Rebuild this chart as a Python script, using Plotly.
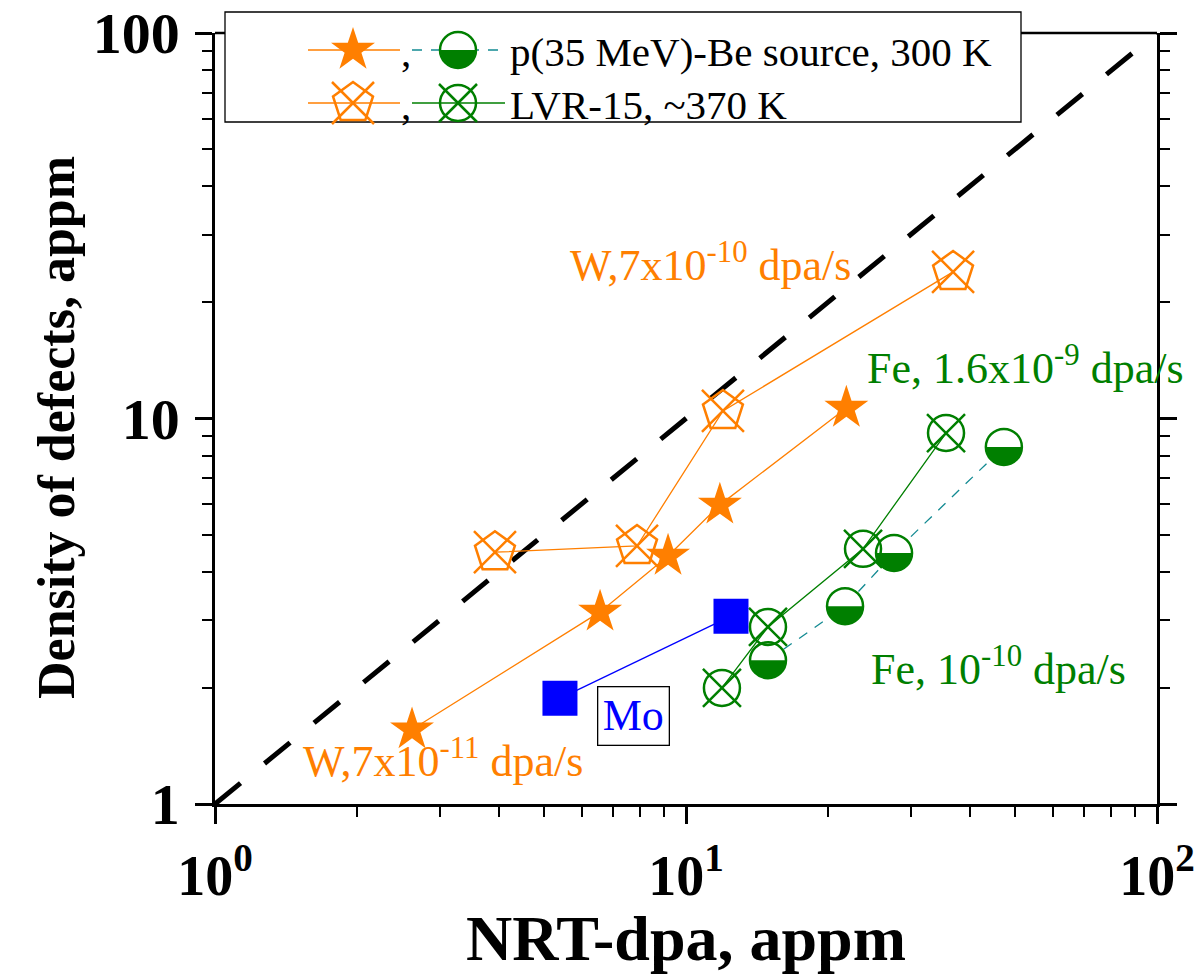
import plotly.graph_objects as go

# ---------------- data ----------------
# W, p(35 MeV)-Be neutron source, 300 K
w_pbe_dpa = [2.62, 6.57, 9.16, 11.8, 21.9]
w_pbe_def = [1.56, 3.15, 4.40, 5.97, 10.65]
# W, LVR-15 reactor, ~370 K
w_lvr_dpa = [3.93, 7.87, 11.98, 36.9]
w_lvr_def = [4.50, 4.67, 10.46, 24.0]
# Fe, p(35 MeV)-Be neutron source, 300 K
fe_pbe_dpa = [14.93, 21.76, 27.65, 47.3]
fe_pbe_def = [2.36, 3.26, 4.48, 8.44]
# Fe, LVR-15 reactor, ~370 K
fe_lvr_dpa = [11.92, 14.93, 23.76, 35.65]
fe_lvr_def = [2.00, 2.88, 4.59, 9.17]
# Mo
mo_dpa = [5.40, 12.46]
mo_def = [1.88, 3.07]
# defects = NRT-dpa reference line
ref_dpa = [1, 100]
ref_def = [1, 100]

decade_vals = [1, 10, 100]
x_tick_text = ["10<sup>0</sup>", "10<sup>1</sup>", "10<sup>2</sup>"]
y_tick_text = ["1", "10", "100"]
minor_vals = [m * d for d in (1, 10) for m in range(2, 10)]

legend_rows = ["p(35 MeV)-Be source, 300 K", "LVR-15, ~370 K"]

# ---------------- styles ----------------
ORANGE = "#FF7F00"
GREEN = "#007F00"
BLUE = "#0000FF"
TEAL = "#128A92"
SERIF = "Liberation Serif"

W, H = 1199, 975
ML, MR, MT, MB = 215, 42, 33, 171
PW, PH = W - ML - MR, H - MT - MB


def px(xp):
    return (xp - ML) / PW


def py(yp):
    return (H - MB - yp) / PH


STAR = dict(symbol="star", size=33, color=ORANGE, line=dict(width=0))
PENT = dict(symbol="pentagon-open", size=42, color=ORANGE, line=dict(width=2.5, color=ORANGE))
PENT_X = dict(symbol="x-thin-open", size=42, color=ORANGE, line=dict(width=2.5, color=ORANGE))
CIRC_O = dict(symbol="circle-open", size=36, color=GREEN, line=dict(width=2.5, color=GREEN))
CIRC_X = dict(symbol="x-thin-open", size=38, color=GREEN, line=dict(width=2.5, color=GREEN))
CIRC_HALF = dict(symbol="circle", size=36, color="white", line=dict(width=2.5, color=GREEN))
SQUARE = dict(symbol="square", size=35, color=BLUE, line=dict(width=0))

HALF_R = 17.5
k = 0.5523 * HALF_R
# lower half of a disc, in pixel offsets (y up)
HALF_PATH = (
    f"M {-HALF_R},0 C {-HALF_R},{-k} {-k},{-HALF_R} 0,{-HALF_R} "
    f"C {k},{-HALF_R} {HALF_R},{-k} {HALF_R},0 Z"
)


def half_disc(x, y, xref="x", yref="y"):
    return dict(
        type="path", xref=xref, yref=yref, xsizemode="pixel", ysizemode="pixel",
        xanchor=x, yanchor=y, path=HALF_PATH, fillcolor=GREEN,
        line=dict(width=0), layer="above",
    )


fig = go.Figure()

# reference line: defects = dpa
fig.add_trace(go.Scatter(x=ref_dpa, y=ref_def, mode="lines",
                         line=dict(color="black", width=5, dash="33px,31px")))

# Fe, p-Be
fig.add_trace(go.Scatter(x=fe_pbe_dpa, y=fe_pbe_def, mode="lines",
                         line=dict(color=TEAL, width=1.3, dash="10px,9px")))
fig.add_trace(go.Scatter(x=fe_pbe_dpa, y=fe_pbe_def, mode="markers", marker=CIRC_HALF))

# Fe, LVR-15
fig.add_trace(go.Scatter(x=fe_lvr_dpa, y=fe_lvr_def, mode="lines+markers",
                         line=dict(color=GREEN, width=1.3), marker=CIRC_O))
fig.add_trace(go.Scatter(x=fe_lvr_dpa, y=fe_lvr_def, mode="markers", marker=CIRC_X))

# W, LVR-15
fig.add_trace(go.Scatter(x=w_lvr_dpa, y=w_lvr_def, mode="lines+markers",
                         line=dict(color=ORANGE, width=1.3), marker=PENT))
fig.add_trace(go.Scatter(x=w_lvr_dpa, y=w_lvr_def, mode="markers", marker=PENT_X))

# W, p-Be
fig.add_trace(go.Scatter(x=w_pbe_dpa, y=w_pbe_def, mode="lines+markers",
                         line=dict(color=ORANGE, width=1.3), marker=STAR))

# Mo
fig.add_trace(go.Scatter(x=mo_dpa, y=mo_def, mode="lines+markers",
                         line=dict(color=BLUE, width=1.3), marker=SQUARE))

shapes = [half_disc(x, y) for x, y in zip(fe_pbe_dpa, fe_pbe_def)]

# ---------------- legend box (drawn on an inset pixel-scaled axis) ----------------
LB_L, LB_R, LB_T, LB_B = 225, 1021, 12, 122
ROW_Y = [50, 103]
SYM1_X, SYM2_X = 353, 458
LINE1 = [308, 400]
LINE2 = [412, 505]
COMMA_X = 399
TEXT_X = 508

shapes.append(dict(type="rect", xref="paper", yref="paper",
                   x0=px(LB_L), x1=px(LB_R), y0=py(LB_B), y1=py(LB_T),
                   line=dict(color="black", width=1.3), fillcolor="white", layer="below"))
# top frame edge on both sides of the legend box
shapes.append(dict(type="line", xref="paper", yref="paper", x0=0, x1=px(LB_L),
                   y0=1, y1=1, line=dict(color="black", width=2.5)))
shapes.append(dict(type="line", xref="paper", yref="paper", x0=px(LB_R), x1=1,
                   y0=1, y1=1, line=dict(color="black", width=2.5)))

lg = dict(xaxis="x2", yaxis="y2", cliponaxis=False)
r1, r2 = ROW_Y
fig.add_trace(go.Scatter(x=LINE1, y=[r1, r1], mode="lines", line=dict(color=ORANGE, width=1.3), **lg))
fig.add_trace(go.Scatter(x=[SYM1_X], y=[r1], mode="markers", marker=STAR, **lg))
fig.add_trace(go.Scatter(x=LINE2, y=[r1, r1], mode="lines",
                         line=dict(color=TEAL, width=1.3, dash="10px,9px"), **lg))
fig.add_trace(go.Scatter(x=[SYM2_X], y=[r1], mode="markers", marker=CIRC_HALF, **lg))
shapes.append(half_disc(SYM2_X, r1, "x2", "y2"))
fig.add_trace(go.Scatter(x=LINE1, y=[r2, r2], mode="lines", line=dict(color=ORANGE, width=1.3), **lg))
fig.add_trace(go.Scatter(x=[SYM1_X], y=[r2], mode="markers", marker=PENT, **lg))
fig.add_trace(go.Scatter(x=[SYM1_X], y=[r2], mode="markers", marker=PENT_X, **lg))
fig.add_trace(go.Scatter(x=LINE2, y=[r2, r2], mode="lines", line=dict(color=GREEN, width=1.3), **lg))
fig.add_trace(go.Scatter(x=[SYM2_X], y=[r2], mode="markers", marker=CIRC_O, **lg))
fig.add_trace(go.Scatter(x=[SYM2_X], y=[r2], mode="markers", marker=CIRC_X, **lg))

annotations = []
for ry, label in zip(ROW_Y, legend_rows):
    annotations.append(dict(xref="x2", yref="y2", x=TEXT_X, y=ry + 2, text=label,
                            showarrow=False, xanchor="left", yanchor="middle",
                            font=dict(family=SERIF, size=41, color="black")))
    annotations.append(dict(xref="x2", yref="y2", x=COMMA_X, y=ry + 2, text=",",
                            showarrow=False, xanchor="left", yanchor="middle",
                            font=dict(family=SERIF, size=41, color="black")))

# ---------------- in-plot labels ----------------
def label(text, xp, yp, color, anchor="left", **kw):
    d = dict(xref="paper", yref="paper", x=px(xp), y=py(yp), text=text, showarrow=False,
             xanchor=anchor, yanchor="middle", font=dict(family=SERIF, size=44, color=color))
    d.update(kw)
    return d


annotations += [
    label("W,7x10<sup>-10</sup> dpa/s", 568, 262, ORANGE),
    label("Fe, 1.6x10<sup>-9</sup> dpa/s", 865, 365, GREEN),
    label("Fe, 10<sup>-10</sup> dpa/s", 869, 666, GREEN),
    label("W,7x10<sup>-11</sup> dpa/s", 301, 758, ORANGE),
    label("Mo", 633, 716, BLUE, anchor="center", bordercolor="black", borderwidth=1.3,
          borderpad=3, bgcolor="white", width=64, height=51),
]

# axis titles
annotations.append(dict(xref="paper", yref="paper", x=px(686), y=py(938),
                        text="NRT-dpa, appm", showarrow=False, xanchor="center", yanchor="middle",
                        font=dict(family=SERIF, size=64, color="black", weight="bold")))
annotations.append(dict(xref="paper", yref="paper", x=px(57), y=py(428),
                        text="Density of defects, appm", showarrow=False, textangle=-90,
                        xanchor="center", yanchor="middle",
                        font=dict(family=SERIF, size=52, color="black", weight="bold")))

axis_common = dict(
    type="log", range=[0, 2], showgrid=False, zeroline=False, automargin=False,
    showline=True, linecolor="black", linewidth=2.5,
    ticks="outside", ticklen=17, tickwidth=2.5, tickcolor="black",
    tickmode="array", tickvals=decade_vals,
    minor=dict(tickmode="array", tickvals=minor_vals, ticks="outside",
               ticklen=10, tickwidth=2, tickcolor="black", showgrid=False),
)

fig.update_layout(
    template="none",
    width=W, height=H,
    margin=dict(l=ML, r=MR, t=MT, b=MB, autoexpand=False),
    paper_bgcolor="white", plot_bgcolor="rgba(0,0,0,0)",
    showlegend=False,
    xaxis=dict(**axis_common, mirror=False, ticktext=x_tick_text, ticklabelstandoff=4,
               tickfont=dict(family=SERIF, size=56, color="black", weight="bold")),
    yaxis=dict(**axis_common, mirror="ticks", ticktext=y_tick_text, ticklabelstandoff=4,
               tickfont=dict(family=SERIF, size=58, color="black", weight="bold")),
    xaxis2=dict(domain=[px(LB_L), px(LB_R)], range=[LB_L, LB_R], visible=False,
                anchor="y2", fixedrange=True, automargin=False),
    yaxis2=dict(domain=[py(LB_B), 1], range=[LB_B, MT], visible=False,
                anchor="x2", fixedrange=True, automargin=False),
    shapes=shapes,
    annotations=annotations,
)

fig.write_html("out.html")
